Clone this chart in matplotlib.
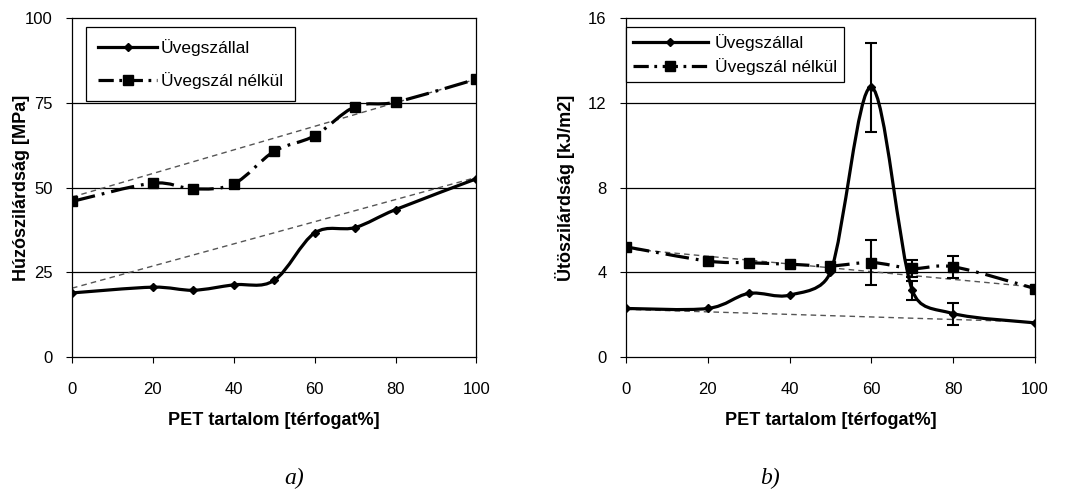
import numpy as np
import matplotlib
matplotlib.use('Agg')
import matplotlib.pyplot as plt
from matplotlib.path import Path
from matplotlib.patches import PathPatch
from matplotlib.lines import Line2D

plt.rcParams['font.family'] = ['Liberation Sans', 'DejaVu Sans']
plt.rcParams['lines.scale_dashes'] = False

# PET content [vol%]
pet = [0, 20, 30, 40, 50, 60, 70, 80, 100]

# a) tensile strength [MPa]
tens_glass = [18.9, 20.6, 19.7, 21.3, 22.6, 36.6, 38.2, 43.5, 52.6]
tens_noglass = [45.9, 51.3, 49.6, 51.1, 60.7, 65.3, 73.9, 75.2, 82.0]
tens_trend_x = [0, 100]
tens_trend_glass = [20.3, 53.0]
tens_trend_noglass = [47.2, 82.0]

# b) impact strength [kJ/m2]
imp_glass = [2.29, 2.29, 3.0, 2.92, 4.02, 12.74, 3.15, 2.05, 1.61]
imp_noglass = [5.2, 4.53, 4.45, 4.38, 4.3, 4.46, 4.18, 4.26, 3.23]
err_x_glass = [60, 70, 80]
err_y_glass = [12.74, 3.15, 2.05]
err_glass = [2.1, 0.46, 0.52]
err_x_noglass = [60, 70, 80]
err_y_noglass = [4.46, 4.18, 4.26]
err_noglass = [1.08, 0.4, 0.52]
imp_trend_x = [0, 100]
imp_trend_glass = [2.25, 1.65]
imp_trend_noglass = [5.12, 3.3]

label_glass = 'Üvegszállal'
label_noglass = 'Üvegszál nélkül'

DASHDOT = (0, (17, 5, 2, 5))
LW = 2.3


def smooth_path(ax, x, y):
    # Excel-like smoothed line, built in screen space so the tangents
    # can be clamped to the segment length (no overshoot)
    pts = ax.transData.transform(np.column_stack([x, y]).astype(float))
    ext = np.vstack([pts[0], pts, pts[-1]])
    verts = [pts[0]]
    codes = [Path.MOVETO]
    for i in range(len(pts) - 1):
        p0, p1, p2, p3 = ext[i], ext[i + 1], ext[i + 2], ext[i + 3]
        seg = np.hypot(*(p2 - p1))
        t1 = (p2 - p0) / 6.0
        t2 = (p3 - p1) / 6.0
        for t in (t1, t2):
            n = np.hypot(*t)
            if n > 0.45 * seg:
                t *= 0.45 * seg / n
        verts += [p1 + t1, p2 - t2, p2]
        codes += [Path.CURVE4] * 3
    verts = ax.transData.inverted().transform(np.array(verts))
    return Path(verts, codes)


def draw_panel(ax, y_glass, y_noglass, trend_glass, trend_noglass, trend_x, ymax, ystep, ylabel):
    ax.set_xlim(0, 100)
    ax.set_ylim(0, ymax)

    ax.plot(trend_x, trend_glass, color='#555555', lw=1.0, ls=(0, (4, 3)), zorder=2)
    ax.plot(trend_x, trend_noglass, color='#555555', lw=1.0, ls=(0, (4, 3)), zorder=2)

    ax.add_patch(PathPatch(smooth_path(ax, pet, y_glass), fill=False, lw=LW, ec='black',
                           capstyle='round', zorder=3))
    ax.add_patch(PathPatch(smooth_path(ax, pet, y_noglass), fill=False, lw=LW, ec='black',
                           ls=DASHDOT, zorder=3))
    ax.plot(pet, y_glass, ls='none', marker='D', ms=4.5, color='black', zorder=4)
    ax.plot(pet, y_noglass, ls='none', marker='s', ms=7.5, color='black', zorder=4)

    ax.set_xticks([0, 20, 40, 60, 80, 100])
    ax.set_yticks(np.arange(0, ymax + ystep / 2, ystep))
    for v in np.arange(ystep, ymax, ystep):
        ax.axhline(v, color='black', lw=0.9, zorder=1)
    ax.tick_params(direction='out', length=4, width=0.8, labelsize=12, colors='black')
    ax.tick_params(axis='x', pad=14)
    ax.tick_params(axis='y', pad=10)
    for s in ax.spines.values():
        s.set_linewidth(0.9)
    ax.set_xlabel('PET tartalom [térfogat%]', fontsize=13, fontweight='bold', va='center')
    ax.xaxis.set_label_coords(0.5, -0.189)
    ax.set_ylabel(ylabel, fontsize=13, fontweight='bold', va='center')
    return ax


fig = plt.figure(figsize=(10.67, 4.91), dpi=100)
ax1 = fig.add_axes([0.0675, 0.273, 0.379, 0.690])
ax2 = fig.add_axes([0.5867, 0.273, 0.3833, 0.690])

draw_panel(ax1, tens_glass, tens_noglass, tens_trend_glass, tens_trend_noglass, tens_trend_x,
           100, 25, 'Húzószilárdság [MPa]')
draw_panel(ax2, imp_glass, imp_noglass, imp_trend_glass, imp_trend_noglass, imp_trend_x,
           16, 4, 'Ütöszilárdság [kJ/m2]')
ax1.yaxis.set_label_coords(-0.124, 0.5)
ax2.yaxis.set_label_coords(-0.149, 0.5)

ax2.errorbar(err_x_glass, err_y_glass, yerr=err_glass, ls='none', color='black', lw=1.5,
             capsize=4, capthick=1.5, zorder=5)
ax2.errorbar(err_x_noglass, err_y_noglass, yerr=err_noglass, ls='none', color='black', lw=1.5,
             capsize=4, capthick=1.5, zorder=5)

h1 = Line2D([], [], color='black', lw=LW, marker='D', ms=4.5)
h2 = Line2D([], [], color='black', lw=LW, ls=(0, (11, 4, 2, 4)), marker='s', ms=7.5)

leg1 = ax1.legend([h1, h2], [label_glass, label_noglass], loc='upper left',
                  bbox_to_anchor=(0.035, 0.975), borderaxespad=0, fontsize=12.5,
                  handlelength=3.4, handletextpad=0.2, borderpad=0.7, labelspacing=0.95,
                  fancybox=False, framealpha=1, edgecolor='black')
leg1.get_frame().set_linewidth(0.9)
leg2 = ax2.legend([h1, h2], [label_glass, label_noglass], loc='upper left',
                  bbox_to_anchor=(0.0, 0.973), borderaxespad=0, fontsize=12.5,
                  handlelength=4.3, handletextpad=0.4, borderpad=0.4, labelspacing=0.4,
                  fancybox=False, framealpha=1, edgecolor='black')
leg2.get_frame().set_linewidth(0.9)

fig.text(0.276, 0.026, 'a)', fontsize=17, style='italic', family='Liberation Serif',
         ha='center', va='center')
fig.text(0.722, 0.026, 'b)', fontsize=17, style='italic', family='Liberation Serif',
         ha='center', va='center')

fig.savefig('out.png', dpi=100)
